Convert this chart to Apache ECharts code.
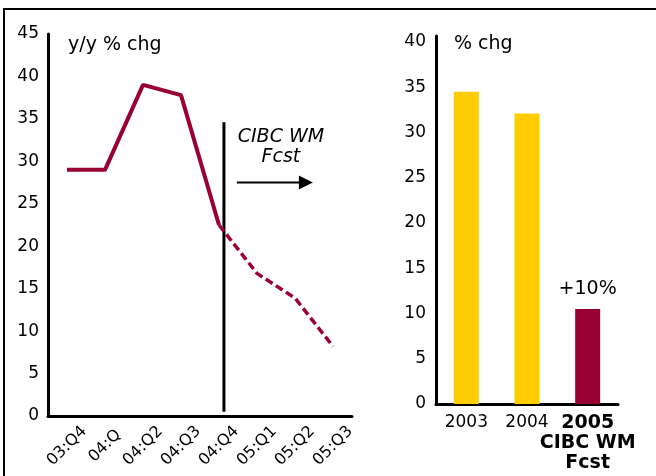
<!DOCTYPE html>
<html><head><meta charset="utf-8">
<script src="https://cdn.jsdelivr.net/npm/echarts@6/dist/echarts.min.js"></script>
<style>html,body{margin:0;padding:0;background:#fff}#c{width:656px;height:476px}</style>
</head><body><div id="c"></div>
<script>
// ---- data ----
const quarters = ['03:Q4', '04:Q', '04:Q2', '04:Q3', '04:Q4', '05:Q1', '05:Q2', '05:Q3'];
const actual   = [29, 29, 39, 37.8, 22.5, null, null, null];
const forecast = [null, null, null, null, 22.5, 16.8, 13.9, 8.2];
const years = ['2003', '2004', '2005'];
const yearNotes = [null, null, ['CIBC WM', 'Fcst']];
const yearValues = [34.5, 32.1, 10.5];
const yearLabels = ['', '', '+10%'];
const leftAxisTitle = 'y/y % chg';
const rightAxisTitle = '% chg';
const fcstText = ['CIBC WM', 'Fcst'];
// annotation anchors in data space (x = category index)
const fcstLineX = 4.13, fcstLineY = [0.5, 34.6];
const arrowX = [4.47, 6.47], arrowY = 27.5;
const fcstTextPos = [5.63, 31.7];

const FONT = 'DejaVu Sans';
const MAROON = '#990033', YELLOW = '#FFCC00';

const chart = echarts.init(document.getElementById('c'), null, {renderer: 'canvas'});
chart.setOption({
  animation: false,
  backgroundColor: '#fff',
  textStyle: {fontFamily: FONT, color: '#000'},
  grid: [
    {left: 48, top: 34, width: 304, height: 382, containLabel: false, outerBoundsMode: 'none'},
    {left: 436, top: 36, width: 182, height: 368, containLabel: false, outerBoundsMode: 'none'}
  ],
  xAxis: [
    {type: 'category', gridIndex: 0, data: quarters, boundaryGap: true,
     axisLine: {onZero: false, lineStyle: {color: '#000', width: 3}},
     axisTick: {alignWithLabel: true, length: 3, lineStyle: {color: '#000', width: 2}},
     axisLabel: {interval: 0, rotate: 45, align: 'center', verticalAlign: 'middle', margin: 30,
                 fontSize: 16, color: '#000', fontFamily: FONT}},
    {type: 'category', gridIndex: 1, data: years, boundaryGap: true,
     axisLine: {onZero: false, lineStyle: {color: '#000', width: 3}},
     axisTick: {length: 3, lineStyle: {color: '#000', width: 2}},
     axisLabel: {interval: 0, margin: 9, fontSize: 17, lineHeight: 20, color: '#000', fontFamily: FONT,
       formatter: (v) => {
         const n = yearNotes[years.indexOf(v)];
         if (!n) return v;
         return ['{b|' + v + '}'].concat(n.map(s => '{b|' + s + '}')).join('\n');
       },
       rich: {b: {fontWeight: 'bold', fontSize: 19, lineHeight: 20, fontFamily: FONT, color: '#000'}}}},
    {type: 'value', gridIndex: 0, min: -0.5, max: 7.5, show: false}
  ],
  yAxis: [
    {type: 'value', gridIndex: 0, min: 0, max: 45, interval: 5,
     axisLine: {show: true, onZero: false, lineStyle: {color: '#000', width: 3}},
     axisTick: {show: false}, splitLine: {show: false},
     axisLabel: {fontSize: 17, color: '#000', margin: 9, fontFamily: FONT}},
    {type: 'value', gridIndex: 1, min: 0, max: 40.66, interval: 5,
     axisLine: {show: true, onZero: false, lineStyle: {color: '#000', width: 3}},
     axisTick: {show: false}, splitLine: {show: false},
     axisLabel: {fontSize: 17, color: '#000', margin: 10, fontFamily: FONT,
                 formatter: v => (Math.abs(v % 5) < 1e-9 ? String(v) : '')}}
  ],
  series: [
    {type: 'line', xAxisIndex: 0, yAxisIndex: 0, data: actual, symbol: 'none',
     lineStyle: {color: MAROON, width: 4}, connectNulls: false},
    {type: 'line', xAxisIndex: 0, yAxisIndex: 0, data: forecast, symbol: 'none',
     lineStyle: {color: MAROON, width: 3.5, type: [8, 4]}, connectNulls: false},
    {type: 'bar', xAxisIndex: 1, yAxisIndex: 1, data: yearValues, barWidth: 25,
     itemStyle: {color: p => (p.dataIndex === 2 ? MAROON : YELLOW)},
     label: {show: true, position: 'top', distance: 10, fontSize: 19, color: '#000', fontFamily: FONT,
             formatter: p => yearLabels[p.dataIndex]}}
  ]
});

const px = x => chart.convertToPixel({xAxisIndex: 2}, x);
const py = y => chart.convertToPixel({yAxisIndex: 0}, y);
const g = [];
// frame
g.push({type: 'line', shape: {x1: 3, y1: 9, x2: 656, y2: 9}, style: {stroke: '#000', lineWidth: 2}});
g.push({type: 'line', shape: {x1: 4, y1: 9, x2: 4, y2: 476}, style: {stroke: '#000', lineWidth: 2}});
// forecast divider
const vx = px(fcstLineX);
g.push({type: 'line', shape: {x1: vx, y1: py(fcstLineY[0]), x2: vx, y2: py(fcstLineY[1])},
        style: {stroke: '#000', lineWidth: 3}});
// arrow
const ax0 = px(arrowX[0]), ax1 = px(arrowX[1]), ay = py(arrowY);
g.push({type: 'line', shape: {x1: ax0, y1: ay, x2: ax1 - 13, y2: ay}, style: {stroke: '#000', lineWidth: 2}});
g.push({type: 'polygon', shape: {points: [[ax1 - 14, ay - 7], [ax1, ay], [ax1 - 14, ay + 7]]}, style: {fill: '#000'}});
// forecast text
g.push({type: 'text', x: px(fcstTextPos[0]), y: py(fcstTextPos[1]),
        style: {text: fcstText.join('\n'), font: 'italic 19px "DejaVu Sans"', fill: '#000',
                align: 'center', verticalAlign: 'middle', lineHeight: 20}});
// axis titles
g.push({type: 'text', x: 68, y: 45, style: {text: leftAxisTitle, font: '19px "DejaVu Sans"', fill: '#000', verticalAlign: 'middle'}});
g.push({type: 'text', x: 454, y: 44, style: {text: rightAxisTitle, font: '19px "DejaVu Sans"', fill: '#000', verticalAlign: 'middle'}});
chart.setOption({graphic: g});
</script></body></html>
